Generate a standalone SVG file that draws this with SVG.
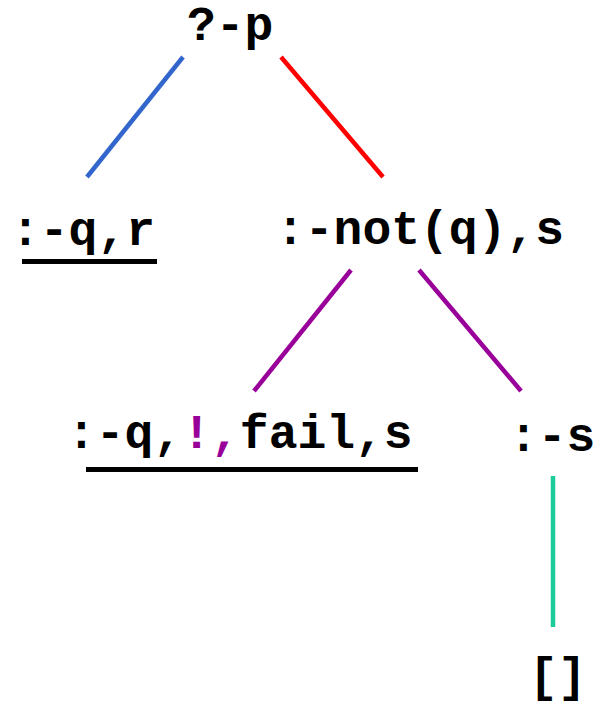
<svg xmlns="http://www.w3.org/2000/svg" width="604" height="707" viewBox="0 0 604 707">
<style>
text{font-family:"Courier New","Nimbus Mono PS","FreeMono","Liberation Mono",monospace;font-weight:bold;font-size:48px;fill:#000}
.e{stroke-width:4.5;stroke-linecap:butt;fill:none}
.u{stroke:#000;stroke-width:5}
</style>
<rect width="604" height="707" fill="#fff"/>
<g id="connectors">
<line class="e" x1="183" y1="57" x2="87" y2="177" stroke="#3366cc"/>
<line class="e" x1="281" y1="57" x2="383" y2="177" stroke="#ff0000"/>
<line class="e" x1="351" y1="270" x2="254" y2="391" stroke="#990099"/>
<line class="e" x1="419" y1="270" x2="521" y2="391" stroke="#990099"/>
<line class="e" x1="553" y1="476" x2="553" y2="627" stroke="#19cc99" stroke-width="5"/>
</g>
<g id="n0"><text x="187" y="40">?-p</text></g>
<g id="n1"><text x="11" y="245">:-q,r</text><line class="u" x1="22" y1="261.5" x2="157" y2="261.5"/></g>
<g id="n2"><text x="276" y="244">:-not(q),s</text></g>
<g id="n3"><text x="67" y="448">:-q,<tspan fill="#990099">!,</tspan>fail,s</text><line class="u" x1="86" y1="469.5" x2="418" y2="469.5"/></g>
<g id="n4"><text x="509" y="451">:-s</text></g>
<g id="n5"><text x="529" y="691" font-size="44">[]</text></g>
</svg>
